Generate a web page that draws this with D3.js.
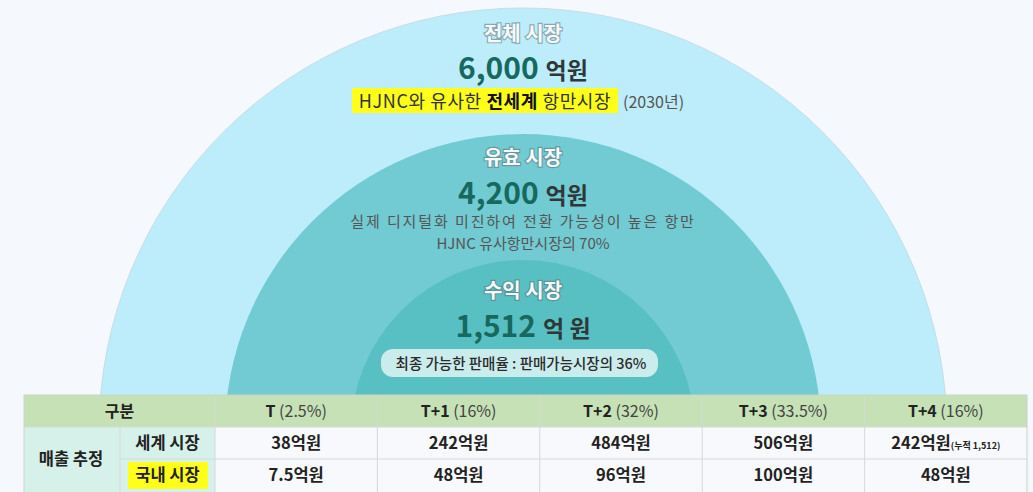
<!DOCTYPE html>
<html>
<head>
<meta charset="utf-8">
<script src="https://cdn.jsdelivr.net/npm/d3@7"></script>
<style>
  body { margin: 0; background: #f5f8fc; }
  svg { display: block; font-family: "Noto Sans CJK KR", "Noto Sans", sans-serif; }
</style>
</head>
<body>
<svg id="chart" width="1033" height="492"></svg>
<script>
// market tiers (outer -> inner)
const marketNames = ['전체 시장', '유효 시장', '수익 시장'];
const marketValues = ['6,000', '4,200', '1,512'];
const marketUnits = ['억원', '억원', '억 원'];

// table data
const periods = ['T', 'T+1', 'T+2', 'T+3', 'T+4'];
const periodShares = ['(2.5%)', '(16%)', '(32%)', '(33.5%)', '(16%)'];
const worldSales = [38, 242, 484, 506, 242];
const domesticSales = [7.5, 48, 96, 100, 48];
const rowLabels = ['세계 시장', '국내 시장'];

const W = 1033, H = 492;
const svg = d3.select('#chart');
const CX = 523, CY = 432;

// radius per tier
const rScale = d3.scaleLinear().domain([0, marketNames.length - 1]).range([424, 172]);

const defs = svg.append('defs');
const grads = [
    ['#bdedfb', '#bdedfb'],
    ['#72cbd2', '#ace6f4'],
    ['#58c0c2', '#a2e2f0']
];
grads.forEach((g, i) => {
    let r = rScale(i);
    let lg = defs.append('linearGradient')
        .attr('id', 'g' + i)
        .attr('gradientUnits', 'userSpaceOnUse')
        .attr('x1', 0).attr('x2', 0)
        .attr('y1', CY - r).attr('y2', 395);
    lg.append('stop').attr('offset', '0%').attr('stop-color', g[0]);
    lg.append('stop').attr('offset', '100%').attr('stop-color', g[1]);
});

let arc = d3.arc()
    .innerRadius(0)
    .outerRadius(d => d.r)
    .startAngle(-Math.PI / 2)
    .endAngle(Math.PI / 2);

svg.append('g')
    .attr('transform', `translate(${CX},${CY})`)
    .selectAll('path')
    .data(marketNames.map((n, i) => ({r: rScale(i), i: i})))
    .join('path')
    .attr('d', arc)
    .attr('fill', d => `url(#g${d.i})`)
    .attr('stroke', (d) => d.i == 0 ? '#c6dde6' : 'none')
    .attr('stroke-width', 1);

// labels inside the arcs
const titleY = [41, 165, 298];
const valueY = [79, 204, 337];

let labels = svg.append('g');
marketNames.forEach((name, i) => {
    labels.append('text')
        .attr('x', CX).attr('y', titleY[i])
        .attr('text-anchor', 'middle')
        .attr('font-size', 20).attr('font-weight', 700)
        .attr('fill', '#f6fafa')
        .attr('stroke', 'rgba(90,110,115,0.55)')
        .attr('stroke-width', 2.4)
        .attr('paint-order', 'stroke')
        .text(name);

    let t = labels.append('text')
        .attr('x', CX).attr('y', valueY[i])
        .attr('text-anchor', 'middle');
    t.append('tspan')
        .attr('font-size', 30).attr('font-weight', 700)
        .attr('fill', '#17695f')
        .text(marketValues[i]);
    t.append('tspan')
        .attr('dx', 7)
        .attr('font-size', 23).attr('font-weight', 700)
        .attr('fill', '#2f3838')
        .text(marketUnits[i]);
});

// outer subtitle with highlight
labels.append('rect')
    .attr('x', 352).attr('y', 88)
    .attr('width', 266).attr('height', 25)
    .attr('fill', '#ffff1a');
let sub = labels.append('text')
    .attr('x', 485).attr('y', 108)
    .attr('text-anchor', 'middle')
    .attr('font-size', 18)
    .attr('letter-spacing', 0.6)
    .attr('fill', '#333');
sub.append('tspan').text('HJNC와 유사한 ');
sub.append('tspan').attr('font-weight', 700).attr('fill', '#111').text('전세계');
sub.append('tspan').text(' 항만시장');
labels.append('text')
    .attr('x', 623).attr('y', 108)
    .attr('font-size', 16).attr('fill', '#555')
    .text('(2030년)');

// middle subtitle
labels.append('text')
    .attr('x', CX).attr('y', 227)
    .attr('text-anchor', 'middle')
    .attr('font-size', 15).attr('fill', '#555')
    .attr('letter-spacing', 1.9)
    .text('실제 디지털화 미진하여 전환 가능성이 높은 항만');
labels.append('text')
    .attr('x', CX).attr('y', 249)
    .attr('text-anchor', 'middle')
    .attr('font-size', 15).attr('fill', '#555')
    .text('HJNC 유사항만시장의 70%');

// inner pill
labels.append('rect')
    .attr('x', 381).attr('y', 349)
    .attr('width', 277).attr('height', 28)
    .attr('rx', 12)
    .attr('fill', 'rgba(242,251,251,0.75)');
labels.append('text')
    .attr('x', 521).attr('y', 369)
    .attr('text-anchor', 'middle')
    .attr('font-size', 14.5).attr('font-weight', 500).attr('fill', '#2a2a2a')
    .text('최종 가능한 판매율 : 판매가능시장의 36%');

// ---- table ----
const T_LEFT = 24, T_RIGHT = 1027, T_TOP = 395;
const ROW_H = [32, 32, 33];
const rowY = [T_TOP, T_TOP + ROW_H[0], T_TOP + ROW_H[0] + ROW_H[1]];
const COL1 = 120, COL2 = 215;

let xBand = d3.scaleBand()
    .domain(periods)
    .range([COL2, T_RIGHT]);

let table = svg.append('g');

// header row
table.append('rect')
    .attr('x', T_LEFT).attr('y', rowY[0])
    .attr('width', T_RIGHT - T_LEFT).attr('height', ROW_H[0])
    .attr('fill', '#c6e1b6');
// label block
table.append('rect')
    .attr('x', T_LEFT).attr('y', rowY[1])
    .attr('width', COL2 - T_LEFT).attr('height', 80)
    .attr('fill', '#d6f1e9');
// body
table.append('rect')
    .attr('x', COL2).attr('y', rowY[1])
    .attr('width', T_RIGHT - COL2).attr('height', 80)
    .attr('fill', '#f8f9fc');

// grid lines
let lineColor = '#d3dad6';
table.append('g')
    .selectAll('line')
    .data([COL2].concat(periods.slice(1).map(p => xBand(p))))
    .join('line')
    .attr('x1', d => d).attr('x2', d => d)
    .attr('y1', rowY[0]).attr('y2', H + 40)
    .attr('stroke', lineColor);
table.append('line')
    .attr('x1', COL1).attr('x2', COL1)
    .attr('y1', rowY[1]).attr('y2', H + 40)
    .attr('stroke', lineColor);
table.append('line')
    .attr('x1', T_LEFT).attr('x2', T_RIGHT)
    .attr('y1', rowY[1]).attr('y2', rowY[1])
    .attr('stroke', lineColor);
table.append('line')
    .attr('x1', COL1).attr('x2', T_RIGHT)
    .attr('y1', rowY[2]).attr('y2', rowY[2])
    .attr('stroke', lineColor);
table.append('rect')
    .attr('x', T_LEFT).attr('y', rowY[0])
    .attr('width', T_RIGHT - T_LEFT).attr('height', 140)
    .attr('fill', 'none')
    .attr('stroke', '#c9d3cc');

// header text
table.append('text')
    .attr('x', (T_LEFT + COL2) / 2).attr('y', rowY[0] + 22)
    .attr('text-anchor', 'middle')
    .attr('font-size', 16).attr('font-weight', 700).attr('fill', '#222')
    .text('구분');
let hdr = table.append('g')
    .selectAll('text')
    .data(periods)
    .join('text')
    .attr('x', d => xBand(d) + xBand.bandwidth() / 2)
    .attr('y', rowY[0] + 22)
    .attr('text-anchor', 'middle')
    .attr('font-size', 16);
hdr.append('tspan').attr('font-weight', 700).attr('fill', '#222').text(d => d);
hdr.append('tspan').attr('fill', '#444').text((d, i) => ' ' + periodShares[i]);

// row labels
table.append('text')
    .attr('x', (T_LEFT + COL1) / 2 - 1).attr('y', rowY[2] + 6)
    .attr('text-anchor', 'middle')
    .attr('font-size', 16.5).attr('font-weight', 700).attr('fill', '#222')
    .text('매출 추정');
table.append('rect')
    .attr('x', 128).attr('y', rowY[2] + 3)
    .attr('width', 80).attr('height', 27)
    .attr('fill', '#ffff1a');
table.append('g')
    .selectAll('text')
    .data(rowLabels)
    .join('text')
    .attr('x', (COL1 + COL2) / 2)
    .attr('y', (d, i) => rowY[i + 1] + 22)
    .attr('text-anchor', 'middle')
    .attr('font-size', 16.5).attr('font-weight', 700).attr('fill', '#222')
    .text(d => d);

// values
[worldSales, domesticSales].forEach((vals, r) => {
    let t = table.append('g')
        .selectAll('text')
        .data(vals)
        .join('text')
        .attr('x', (d, i) => xBand(periods[i]) + xBand.bandwidth() / 2)
        .attr('y', rowY[r + 1] + 22)
        .attr('text-anchor', 'middle')
        .attr('font-size', 16.5).attr('font-weight', 700).attr('fill', '#222');
    t.append('tspan').text(d => d + '억원');
    if (r == 0) {
        t.filter((d, i) => i == periods.length - 1)
            .append('tspan')
            .attr('font-size', 9)
            .text('(누적 ' + d3.format(',')(d3.sum(worldSales)) + ')');
    }
});
</script>
</body>
</html>
